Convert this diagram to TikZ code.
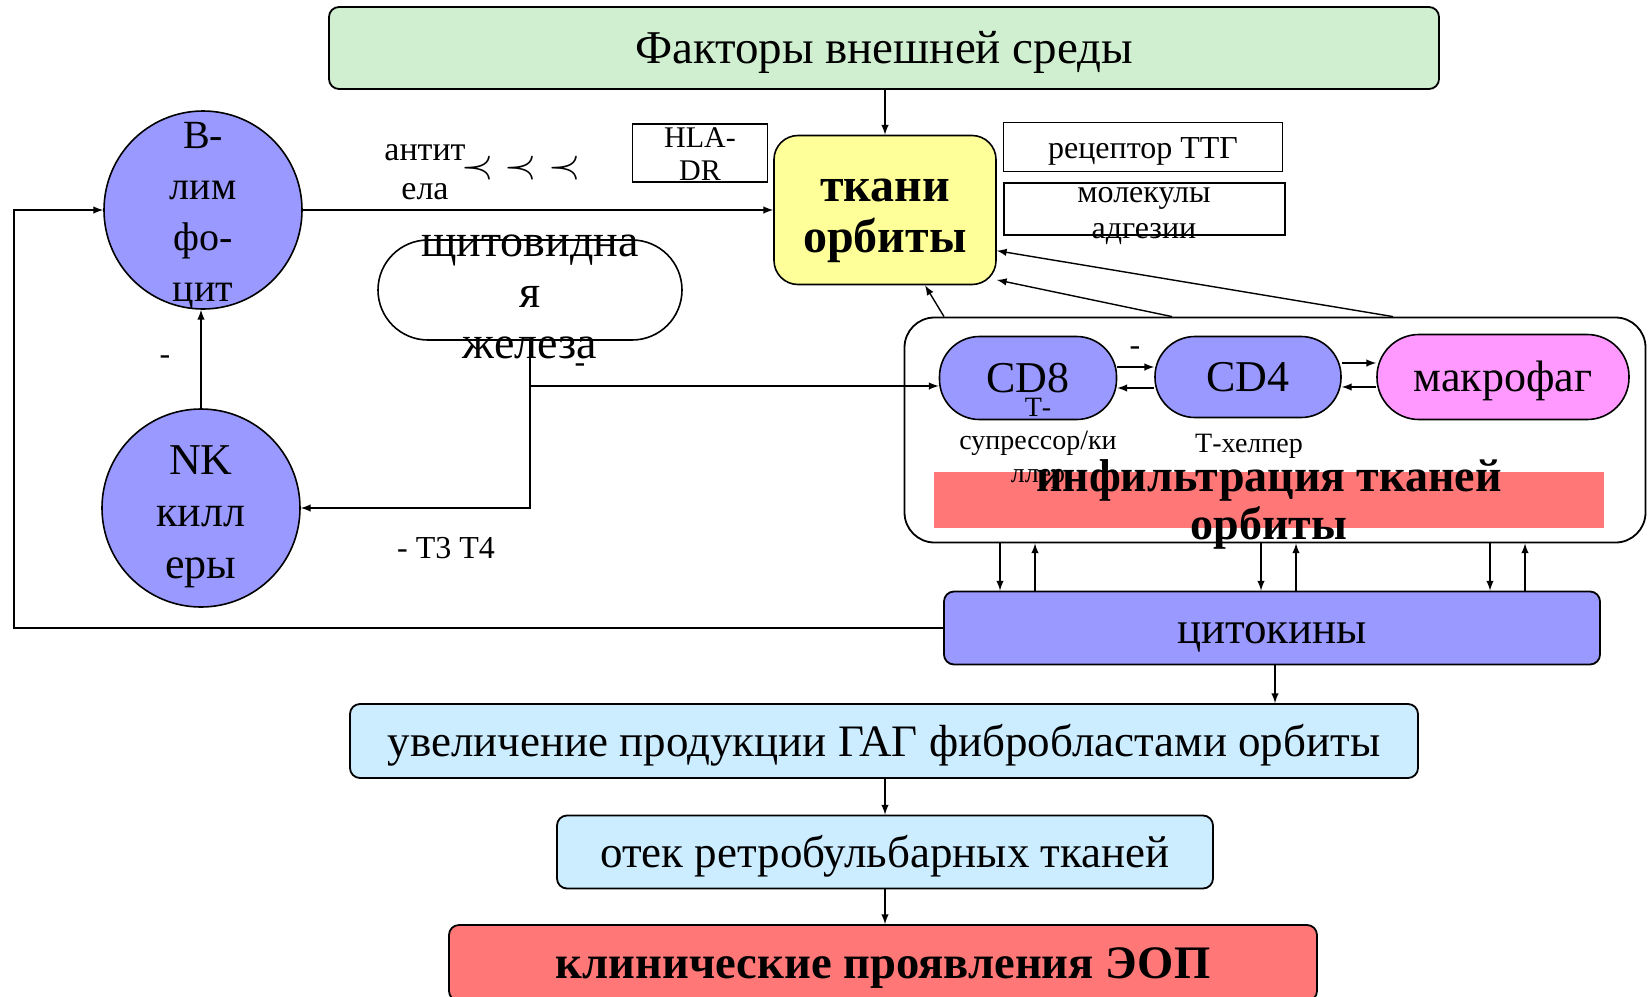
\documentclass[tikz,border=0pt]{standalone}
\usepackage{fontspec}
\setmainfont{Liberation Serif}
\usetikzlibrary{positioning}
\definecolor{vert}{HTML}{D0EFD0}
\definecolor{jaune}{HTML}{FFFF99}
\definecolor{lila}{HTML}{9999FF}
\definecolor{rose}{HTML}{FF99FF}
\definecolor{rouge}{HTML}{FF7777}
\definecolor{bleuclair}{HTML}{CCECFF}
\newcommand{\taille}[2]{\fontsize{#1}{#2}\selectfont}
\begin{document}
\begin{tikzpicture}[x=0.5pt, y=-0.5pt,
    boite/.style={draw, line width=0.9pt, rounded corners=5pt, text height=15pt, text depth=0pt, font=\taille{22.5}{27}},
    cellule/.style={draw, circle, fill=lila, line width=0.8pt, minimum size=99pt},
    cadre/.style={draw, line width=0.8pt},
    texte/.style={align=center, inner sep=0pt},
    fl/.style={-latex, line width=0.7pt}]
\useasboundingbox (0,0) rectangle (1648,996);
\clip (0,0) rectangle (1648,996);

% Facteurs et tissus
\node[boite, fill=vert, minimum width=555pt, minimum height=41pt, font=\taille{23.5}{28}] (env) at (884,48) {Факторы внешней среды};
\node[draw, fill=jaune, line width=0.8pt, rounded corners=12pt, minimum width=111pt, minimum height=74.5pt] (tk) at (885,210) {};
\node[texte, font=\bfseries\taille{24}{25.5}, yshift=-5.5pt] (tkt) at (tk) {ткани\\орбиты};
\node[cadre, minimum width=67.5pt, minimum height=29pt] (hla) at (700,153) {};
\node[texte, font=\taille{15}{16.5}, yshift=-0.5pt] (hlat) at (hla) {HLA-\\DR};
\node[cadre, minimum width=139.5pt, minimum height=24.5pt] (ttg) at (1143,147) {};
\node[texte, font=\taille{16}{18}, yshift=-2pt] (ttgt) at (ttg) {рецептор ТТГ};
\node[cadre, line width=1pt, minimum width=140.5pt, minimum height=26pt] (adh) at (1144,209) {};
\node[texte, font=\taille{16}{18}, yshift=-3.5pt] (adht) at (adh) {молекулы\\адгезии};

% Cellules a gauche
\node[cellule] (bl) at (203,210) {};
\node[texte, font=\taille{20}{25.5}, yshift=-3pt] (blt) at (bl) {В-\\лим\\фо-\\цит};
\node[cellule] (nk) at (201,508) {};
\node[texte, font=\taille{22}{26}, yshift=-4.5pt] (nkt) at (nk) {NK\\килл\\еры};
\node[draw, fill=white, line width=0.8pt, rounded corners=25pt, minimum width=152pt, minimum height=50pt] (thy) at (530,290) {};
\node[texte, font=\taille{23}{25.5}, yshift=-3.5pt] (thyt) at (thy) {щитовидна\\я\\железа};

% Infiltration
\node[draw, fill=white, line width=0.9pt, rounded corners=15pt, minimum width=370.5pt, minimum height=112.5pt] (infil) at (1275,430) {};
\node[draw, fill=lila, line width=0.8pt, rounded corners=20pt, minimum width=88.5pt, minimum height=41.5pt, font=\taille{22}{24}] (cd8) at (1028,378) {CD8};
\node[draw, fill=lila, line width=0.8pt, rounded corners=20pt, minimum width=93pt, minimum height=40.5pt, font=\taille{22}{24}] (cd4) at (1248,377) {CD4};
\node[draw, fill=rose, line width=0.8pt, rounded corners=21pt, minimum width=126pt, minimum height=42.5pt, text height=14pt, text depth=0pt, font=\taille{22}{24}] (mac) at (1503,377) {макрофаг};
\node[fill=rouge, minimum width=335pt, minimum height=28pt] (bar) at (1269,500) {};
\node[texte, font=\taille{14}{16.5}, yshift=-1pt] (t8) at (1038,441) {Т-\\супрессор/ки\\ллер};
\node[texte, font=\taille{14}{16}, yshift=-1pt] (t4) at (1249,444) {Т-хелпер};
\node[texte, font=\bfseries\taille{23}{24}, yshift=-2pt] (bart) at (bar) {инфильтрация тканей\\орбиты};

% Cascade
\node[boite, fill=lila, minimum width=328pt, minimum height=36.5pt] (cyt) at (1272,628) {цитокины};
\node[boite, fill=bleuclair, minimum width=534pt, minimum height=37pt] (gag) at (884,741) {увеличение продукции ГАГ фибробластами орбиты};
\node[boite, fill=bleuclair, minimum width=328pt, minimum height=36.5pt] (otek) at (885,852) {отек ретробульбарных тканей};
\node[boite, fill=rouge, minimum width=434pt, minimum height=38pt, font=\bfseries\taille{23.3}{27}] (eop) at (883,963) {клинические проявления ЭОП};

% Etiquettes
\node[texte, font=\taille{17}{19.5}, yshift=-1pt] (ab) at (425,170) {антит\\ела};
\node[texte, font=\taille{21}{21}] (abs) at (521,168) {$\prec\;\prec\;\prec$};
\node[texte, font=\taille{16}{16}] (m1) at (165,360) {-};
\node[texte, font=\taille{16}{16}] (m2) at (580,368) {-};
\node[texte, font=\taille{16}{16}] (m3) at (1135,351) {-};
\node[texte, font=\taille{16}{16}] (t34) at (446,548) {- T3 T4};

% Fleches
\draw[fl] (env.south -| tk) -- (tk.north);
\draw[fl] (bl.east) -- (bl.east -| tk.west);
\draw[fl] (nk.north) -- (nk.north |- bl.south);
\draw[fl] (thy.south) |- (nk.east);
\draw[fl] (thy.south |- 0,386) -- (cd8.west |- 0,386);
\draw[fl] (cyt.west) -- (14,0 |- cyt.west) |- (bl.west);
\draw[fl] (cd8.east |- 0,367) -- (cd4.west |- 0,367);
\draw[fl] (cd4.west |- 0,388) -- (cd8.east |- 0,388);
\draw[fl] (cd4.east |- 0,363) -- (mac.west |- 0,363);
\draw[fl] (mac.west |- 0,387) -- (cd4.east |- 0,387);
\draw[fl] (944,0 |- infil.north) -- (tk.-62);
\draw[fl] (1172,0 |- infil.north) -- (tk.-32);
\draw[fl] (1393,0 |- infil.north) -- (tk.-20);
\foreach \xa/\xb in {1000/1035, 1261/1296, 1490/1525} {
    \draw[fl] (\xa,0 |- infil.south) -- (\xa,0 |- cyt.north);
    \draw[fl] (\xb,0 |- cyt.north) -- (\xb,0 |- infil.south);
}
\draw[fl] (1275,0 |- cyt.south) -- (1275,0 |- gag.north);
\draw[fl] (gag.south -| otek) -- (otek.north);
\draw[fl] (otek.south) -- (otek.south |- eop.north);
\end{tikzpicture}
\end{document}
